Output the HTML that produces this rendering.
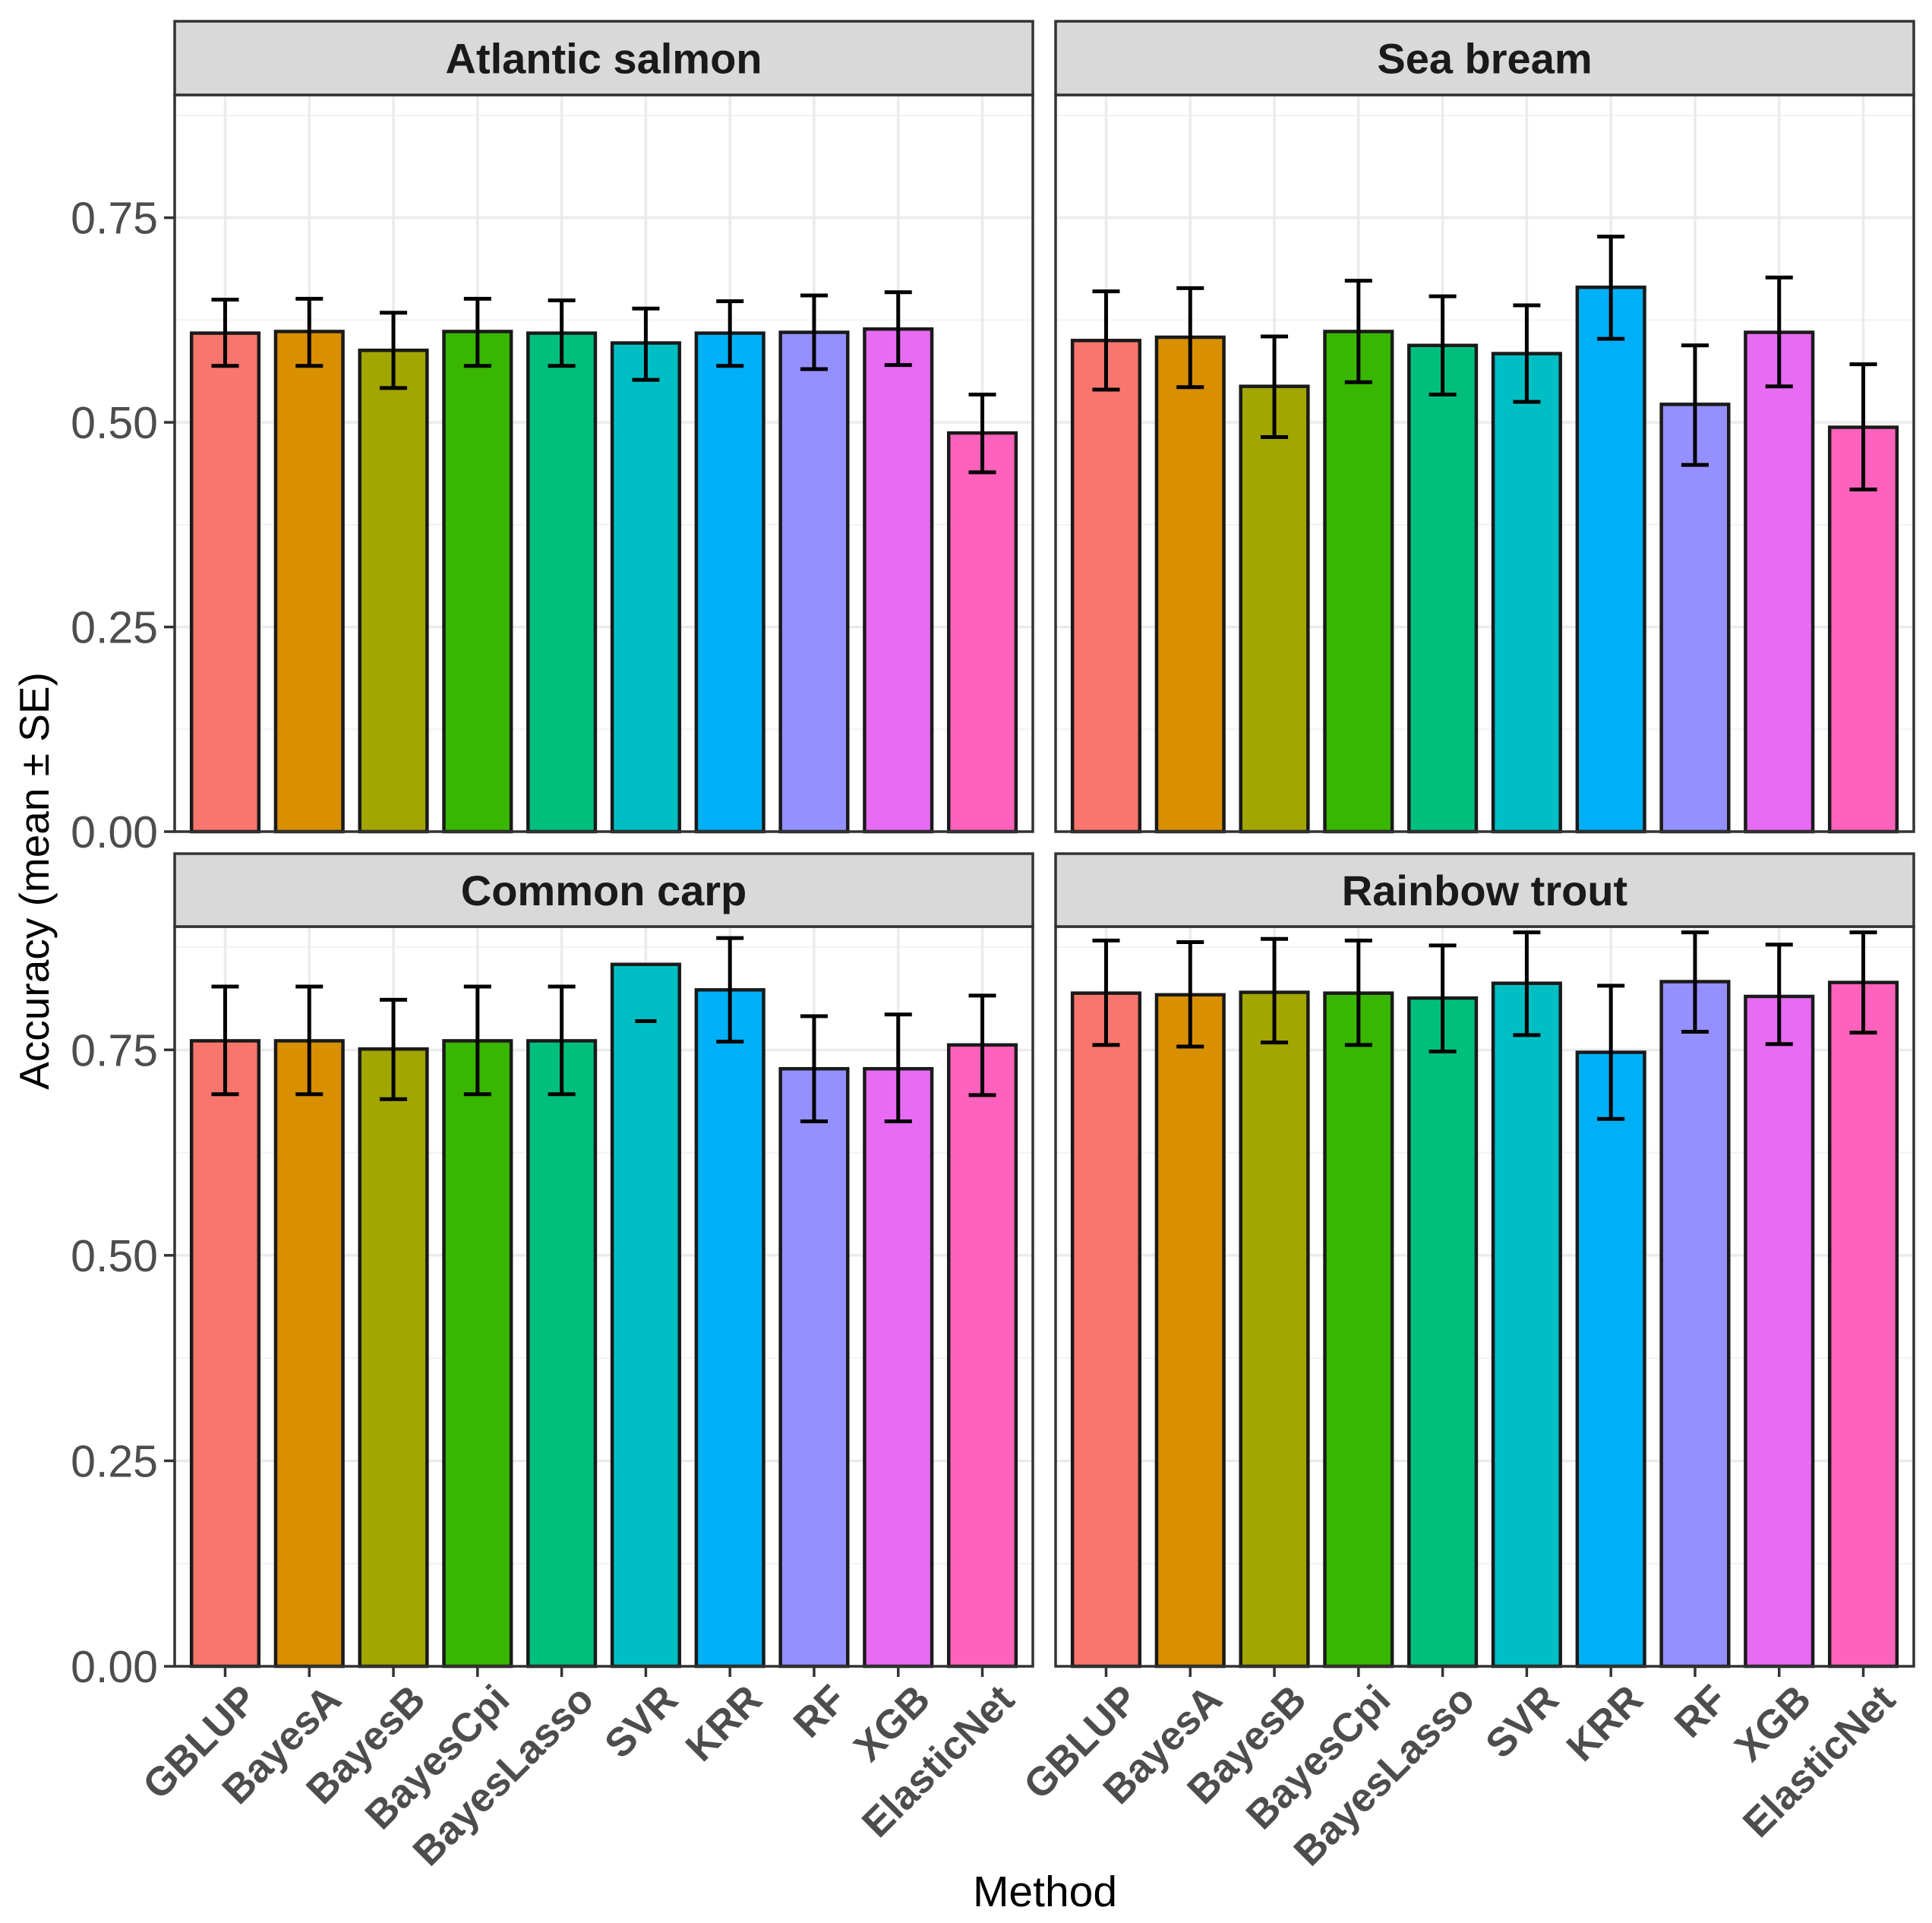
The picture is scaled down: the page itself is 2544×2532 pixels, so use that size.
<!DOCTYPE html>
<html><head><meta charset="utf-8"><style>
html,body{margin:0;padding:0;background:#fff;}
svg{display:block;font-family:"Liberation Sans",Arial,sans-serif;}
</style></head><body>
<svg id="chart" width="2544" height="2532" viewBox="0 0 2544 2532" xmlns="http://www.w3.org/2000/svg">
<rect x="0" y="0" width="2544" height="2532" fill="#fff"/>
<text x="0" y="0" transform="translate(64,1160) rotate(-90)" text-anchor="middle" font-size="55" fill="#000">Accuracy (mean ± SE)</text>
<text x="1376" y="2510" text-anchor="middle" font-size="57" fill="#000">Method</text>
</svg>
<script>
const methods = ["GBLUP","BayesA","BayesB","BayesCpi","BayesLasso","SVR","KRR","RF","XGB","ElasticNet"];
const colors = ["#F8766D","#D89000","#A3A500","#39B600","#00BF7D","#00BFC4","#00B0F6","#9590FF","#E76BF3","#FF62BC"];
const panels = ["Atlantic salmon","Sea bream","Common carp","Rainbow trout"];
const salmonMean = [0.609,0.611,0.588,0.611,0.609,0.597,0.609,0.610,0.614,0.487];
const salmonLo   = [0.569,0.569,0.542,0.569,0.569,0.552,0.569,0.565,0.570,0.439];
const salmonHi   = [0.650,0.651,0.634,0.651,0.649,0.639,0.648,0.655,0.659,0.534];
const breamMean = [0.600,0.604,0.544,0.611,0.594,0.584,0.665,0.522,0.610,0.494];
const breamLo   = [0.540,0.543,0.482,0.549,0.534,0.525,0.602,0.448,0.544,0.418];
const breamHi   = [0.660,0.664,0.605,0.673,0.654,0.643,0.727,0.594,0.677,0.571];
const carpMean = [0.761,0.761,0.751,0.761,0.761,0.854,0.823,0.727,0.727,0.756];
const carpLo   = [0.696,0.696,0.690,0.696,0.696,0.785,0.760,0.663,0.663,0.695];
const carpHi   = [0.827,0.827,0.811,0.827,0.827,0.785,0.886,0.791,0.793,0.816];
const troutMean = [0.819,0.817,0.820,0.819,0.813,0.831,0.747,0.833,0.815,0.832];
const troutLo   = [0.756,0.754,0.759,0.756,0.748,0.768,0.666,0.772,0.757,0.771];
const troutHi   = [0.883,0.881,0.885,0.883,0.877,0.893,0.828,0.893,0.878,0.893];
const yTicks = [0,0.25,0.5,0.75];
const yTickLabels = ["0.00","0.25","0.50","0.75"];
const yMinor = [0.125,0.375,0.625,0.875];

const svg = document.getElementById('chart');
const NS = "http://www.w3.org/2000/svg";
function mk(tag, attrs, parent){
  const e = document.createElementNS(NS, tag);
  for (const k in attrs) e.setAttribute(k, attrs[k]);
  (parent||svg).appendChild(e); return e;
}
const data = [
  [salmonMean,salmonLo,salmonHi],
  [breamMean,breamLo,breamHi],
  [carpMean,carpLo,carpHi],
  [troutMean,troutLo,troutHi]
];
const cols = [[230,1360],[1390,2520]];
const rows = [{st:28,top:125,bot:1095},{st:1124,top:1220,bot:2194}];
const yMax = 0.9;

panels.forEach((name, p) => {
  const c = cols[p%2], r = rows[Math.floor(p/2)];
  const g = mk('g', {});
  
  
  const L=c[0], R=c[1], T=r.top, B=r.bot;
  const yS = v => B - (v / yMax) * (B - T);
  const step = (R - L) / (methods.length - 1 + 1.2);
  const xS = i => L + step * (0.6 + i);
  yMinor.forEach(v => { const l = mk('line',{x1:L,x2:R,y1:yS(v),y2:yS(v),stroke:'#f2f2f2','stroke-width':2},g);   });
  yTicks.forEach(v => { const l = mk('line',{x1:L,x2:R,y1:yS(v),y2:yS(v),stroke:'#ebebeb','stroke-width':3.5},g);   });
  methods.forEach((m,i) => { const l = mk('line',{x1:xS(i),x2:xS(i),y1:T,y2:B,stroke:'#ebebeb','stroke-width':3.5},g);   });
  const [mean, lo, hi] = data[p];
  const bw = step * 0.8;
  methods.forEach((m,i) => {
    const rect = mk('rect',{x:xS(i)-bw/2,y:yS(mean[i]),width:bw,height:B-yS(mean[i]),fill:colors[i],stroke:'#1a1a1a','stroke-width':4.5},g);
    
    
  });
  methods.forEach((m,i) => {
    const eg = mk('g',{stroke:'#000','stroke-width':5,fill:'none'},g);
    
    
    const x = xS(i), hw = (hi[i]===lo[i]) ? 14 : 18;
    mk('line',{x1:x,x2:x,y1:yS(hi[i]),y2:yS(lo[i])},eg);
    mk('line',{x1:x-hw,x2:x+hw,y1:yS(hi[i]),y2:yS(hi[i])},eg);
    mk('line',{x1:x-hw,x2:x+hw,y1:yS(lo[i]),y2:yS(lo[i])},eg);
  });
  const bd = mk('rect',{x:L,y:T,width:R-L,height:B-T,fill:'none',stroke:'#333','stroke-width':3.5},g);
   
  const sr = mk('rect',{x:L,y:r.st,width:R-L,height:T-r.st,fill:'#d9d9d9',stroke:'#333','stroke-width':3.5},g);
   
  const st = mk('text',{x:(L+R)/2,y:(r.st+T)/2+20,'text-anchor':'middle','font-size':56,'font-weight':'bold',fill:'#1a1a1a'},g);
  st.textContent = name;
   
  if (p%2===0) {
    yTicks.forEach((v,k) => {
      const tk = mk('line',{x1:L-14,x2:L,y1:yS(v),y2:yS(v),stroke:'#333','stroke-width':3.5},g);
       
      const t = mk('text',{x:L-22,y:yS(v)+21,'text-anchor':'end','font-size':59,fill:'#4d4d4d'},g);
      t.textContent = yTickLabels[k];
       
    });
  }
  if (p>=2) {
    methods.forEach((m,i) => {
      const tk = mk('line',{x1:xS(i),x2:xS(i),y1:B,y2:B+14,stroke:'#333','stroke-width':3.5},g);
       
      const t = mk('text',{x:0,y:0,dy:'0.72em','text-anchor':'end','font-size':53,'font-weight':'bold',fill:'#4d4d4d',transform:`translate(${xS(i)+18},${B+20}) rotate(-45)`},g);
      t.textContent = m;
       
    });
  }
});
</script>
</body></html>
